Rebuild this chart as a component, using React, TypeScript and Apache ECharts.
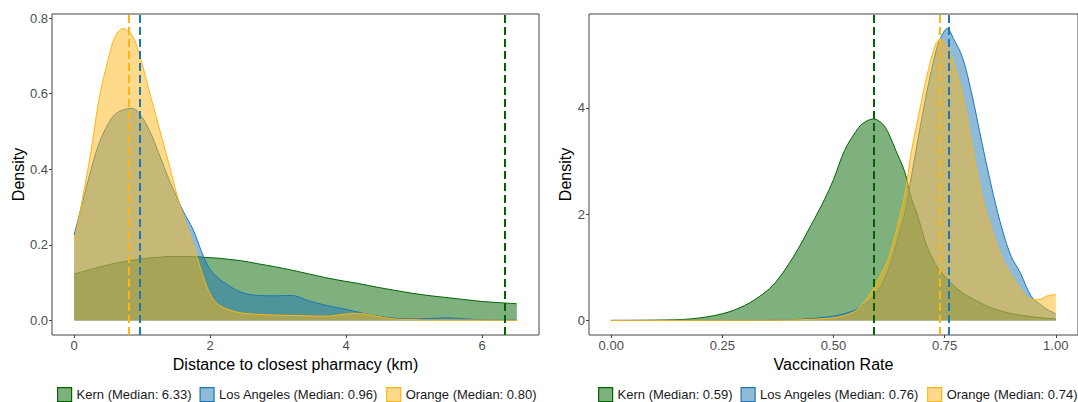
import React, { useEffect, useRef } from "react";
import * as echarts from "echarts";

// Counties shown in both panels
const counties = ["Kern", "Los Angeles", "Orange"];
const lineColors = ["#006400", "#1F77B4", "#FDB515"];
const fillColors = ["rgba(0,100,0,0.5)", "rgba(31,119,180,0.5)", "rgba(253,181,21,0.5)"];

// Distance to closest pharmacy (km): density estimates
const distX = [0, 0.12, 0.25, 0.37, 0.5, 0.6, 0.72, 0.85, 0.95, 1.1, 1.25, 1.4, 1.5, 1.6, 1.75, 1.9, 2.0, 2.1, 2.25, 2.45, 2.7, 2.95, 3.2, 3.45, 3.7, 4.0, 4.2, 4.45, 4.7, 5.0, 5.25, 5.5, 5.75, 6.0, 6.25, 6.51];
const distKern = [0.123, 0.129, 0.135, 0.141, 0.147, 0.151, 0.155, 0.159, 0.162, 0.165, 0.167, 0.169, 0.169, 0.169, 0.169, 0.167, 0.166, 0.165, 0.162, 0.158, 0.15, 0.142, 0.133, 0.123, 0.113, 0.103, 0.097, 0.088, 0.08, 0.071, 0.065, 0.06, 0.055, 0.05, 0.047, 0.044];
const distLA = [0.226, 0.31, 0.4, 0.47, 0.52, 0.545, 0.557, 0.561, 0.55, 0.505, 0.44, 0.37, 0.33, 0.29, 0.24, 0.17, 0.135, 0.115, 0.095, 0.075, 0.066, 0.065, 0.066, 0.052, 0.04, 0.029, 0.021, 0.012, 0.006, 0.004, 0.005, 0.007, 0.004, 0.002, 0.001, 0.001];
const distOrange = [0.208, 0.32, 0.45, 0.59, 0.69, 0.75, 0.772, 0.755, 0.71, 0.61, 0.51, 0.41, 0.34, 0.28, 0.2, 0.115, 0.07, 0.045, 0.03, 0.02, 0.016, 0.014, 0.013, 0.012, 0.011, 0.017, 0.018, 0.011, 0.004, 0.002, 0.001, 0.001, 0.001, 0.001, 0.0005, 0.0003];
const distMedians = [6.33, 0.96, 0.8];
const distXTicks = [0, 2, 4, 6];
const distYTicks = [0, 0.2, 0.4, 0.6, 0.8];

// Vaccination rate: density estimates
const rateX = [0, 0.1, 0.18, 0.25, 0.3, 0.34, 0.37, 0.41, 0.45, 0.48, 0.5, 0.525, 0.55, 0.565, 0.59, 0.61, 0.625, 0.64, 0.66, 0.675, 0.69, 0.71, 0.73, 0.74, 0.756, 0.77, 0.79, 0.81, 0.835, 0.86, 0.88, 0.9, 0.92, 0.945, 0.965, 0.98, 1.0];
const rateKern = [0, 0.005, 0.03, 0.125, 0.28, 0.49, 0.72, 1.2, 1.8, 2.28, 2.65, 3.2, 3.55, 3.7, 3.79, 3.7, 3.5, 3.2, 2.8, 2.3, 1.95, 1.4, 1.05, 0.93, 0.78, 0.66, 0.52, 0.42, 0.31, 0.22, 0.17, 0.13, 0.1, 0.07, 0.05, 0.04, 0.03];
const rateLA = [0, 0.001, 0.002, 0.002, 0.003, 0.005, 0.008, 0.015, 0.035, 0.06, 0.08, 0.13, 0.2, 0.28, 0.45, 0.7, 1.0, 1.4, 2.0, 2.7, 3.4, 4.3, 5.05, 5.3, 5.49, 5.3, 4.95, 4.3, 3.3, 2.35, 1.7, 1.2, 0.9, 0.45, 0.3, 0.21, 0.126];
const rateOrange = [0, 0, 0.002, 0.003, 0.004, 0.005, 0.006, 0.01, 0.02, 0.035, 0.05, 0.09, 0.18, 0.3, 0.6, 0.92, 1.2, 1.65, 2.35, 3.17, 3.8, 4.6, 5.2, 5.29, 5.15, 4.85, 4.25, 3.35, 2.3, 1.6, 1.15, 0.85, 0.6, 0.39, 0.4, 0.46, 0.49];
const rateMedians = [0.59, 0.76, 0.74];
const rateXTicks = [0, 0.25, 0.5, 0.75, 1];
const rateYTicks = [0, 2, 4];

const FONT = "Liberation Sans, Arial, Helvetica, sans-serif";
const AXIS_COLOR = "#444";
const LABEL_COLOR = "#4d4d4d";

function pad(min: number, max: number) {
  const d = (max - min) * 0.05;
  return [min - d, max + d];
}

function legendName(i: number, medians: number[]) {
  return `${counties[i]} (Median: ${medians[i].toFixed(2)})`;
}

function buildPanel(gridIndex: number, xs: number[], ys: number[][], medians: number[]) {
  const series: any[] = ys.map((vals, i) => ({
    type: "line",
    name: legendName(i, medians),
    xAxisIndex: gridIndex,
    yAxisIndex: gridIndex,
    data: xs.map((x, k) => [x, vals[k]]),
    smooth: 0.35,
    showSymbol: false,
    symbol: "none",
    lineStyle: { color: lineColors[i], width: 1 },
    itemStyle: { color: lineColors[i] },
    areaStyle: { color: fillColors[i], opacity: 1, origin: "auto" },
    z: 2 + i,
    markLine: {
      silent: true,
      symbol: "none",
      label: { show: false },
      z: 10,
      lineStyle: { color: lineColors[i], width: 2, type: [8, 4] },
      data: [{ xAxis: medians[i] }],
    },
  }));
  const legendData = ys.map((_, i) => ({
    name: legendName(i, medians),
    icon: "rect",
    itemStyle: { color: fillColors[i], borderColor: lineColors[i], borderWidth: 1.2 },
  }));
  return { series, legendData };
}

export default function App() {
  const ref = useRef<HTMLDivElement>(null);

  useEffect(() => {
    if (!ref.current) return;
    const chart = echarts.init(ref.current, undefined, { renderer: "svg" });

    const left = buildPanel(0, distX, [distKern, distLA, distOrange], distMedians);
    const right = buildPanel(1, rateX, [rateKern, rateLA, rateOrange], rateMedians);

    const distMaxY = Math.max(...distKern, ...distLA, ...distOrange);
    const rateMaxY = Math.max(...rateKern, ...rateLA, ...rateOrange);
    const [dxMin, dxMax] = pad(distX[0], distX[distX.length - 1]);
    const [dyMin, dyMax] = pad(0, distMaxY);
    const [rxMin, rxMax] = pad(rateX[0], rateX[rateX.length - 1]);
    const [ryMin, ryMax] = pad(0, rateMaxY);

    const tickLabel = { color: LABEL_COLOR, fontSize: 13, fontFamily: FONT, margin: 4 };
    const tick = { show: true, length: 3, lineStyle: { color: AXIS_COLOR, width: 1 } };
    const nameStyle = { color: "#000", fontSize: 16, fontFamily: FONT };
    const hiddenLine = { show: false, onZero: false };

    const legendBase = {
      top: 387,
      padding: 0,
      itemWidth: 14,
      itemHeight: 14,
      itemGap: 8,
      selectedMode: false,
      textStyle: { color: "#1a1a1a", fontSize: 13, fontFamily: FONT },
    };

    chart.setOption({
      animation: false,
      backgroundColor: "#fff",
      textStyle: { fontFamily: FONT },
      grid: [
        { left: 52, top: 14, width: 487, height: 321, show: true, borderColor: AXIS_COLOR, borderWidth: 1, backgroundColor: "transparent" },
        { left: 589, top: 14, width: 498, height: 321, show: true, borderColor: AXIS_COLOR, borderWidth: 1, backgroundColor: "transparent" },
      ],
      xAxis: [
        {
          type: "value", gridIndex: 0, min: dxMin, max: dxMax,
          name: "Distance to closest pharmacy (km)", nameLocation: "middle", nameGap: 9, nameTextStyle: nameStyle,
          axisLine: hiddenLine, splitLine: { show: false },
          axisTick: { ...tick, customValues: distXTicks },
          axisLabel: { ...tickLabel, customValues: distXTicks, formatter: (v: number) => String(v) },
        },
        {
          type: "value", gridIndex: 1, min: rxMin, max: rxMax,
          name: "Vaccination Rate", nameLocation: "middle", nameGap: 9, nameTextStyle: nameStyle,
          axisLine: hiddenLine, splitLine: { show: false },
          axisTick: { ...tick, customValues: rateXTicks },
          axisLabel: { ...tickLabel, customValues: rateXTicks, formatter: (v: number) => v.toFixed(2) },
        },
      ],
      yAxis: [
        {
          type: "value", gridIndex: 0, min: dyMin, max: dyMax,
          name: "Density", nameLocation: "middle", nameGap: 26, nameTextStyle: nameStyle,
          axisLine: hiddenLine, splitLine: { show: false },
          axisTick: { ...tick, customValues: distYTicks },
          axisLabel: { ...tickLabel, customValues: distYTicks, formatter: (v: number) => v.toFixed(1) },
        },
        {
          type: "value", gridIndex: 1, min: ryMin, max: ryMax,
          name: "Density", nameLocation: "middle", nameGap: 14, nameTextStyle: nameStyle,
          axisLine: hiddenLine, splitLine: { show: false },
          axisTick: { ...tick, customValues: rateYTicks },
          axisLabel: { ...tickLabel, customValues: rateYTicks, formatter: (v: number) => v.toFixed(0) },
        },
      ],
      legend: [
        { ...legendBase, left: 57, data: left.legendData },
        { ...legendBase, left: 598, data: right.legendData },
      ],
      series: [...left.series, ...right.series],
    });

    return () => chart.dispose();
  }, []);

  return (
    <div
      ref={ref}
      style={{ position: "absolute", left: 0, top: 0, width: 1078, height: 402, background: "#fff" }}
    />
  );
}
